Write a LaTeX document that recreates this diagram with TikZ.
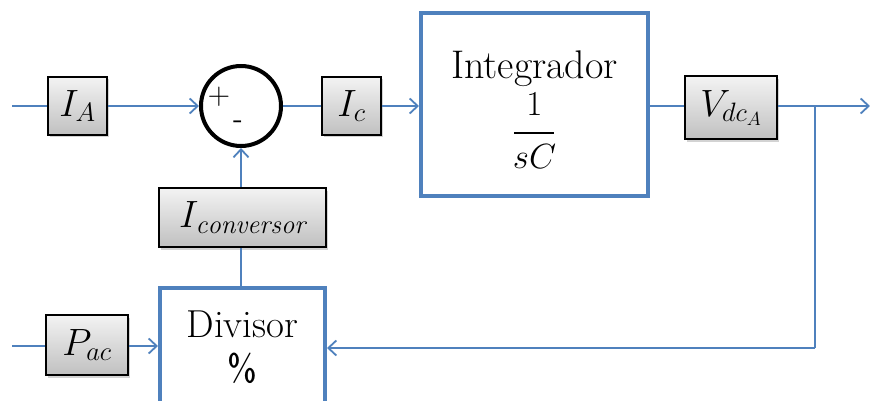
\RequirePackage{fix-cm}
\documentclass[tikz,border=0pt]{standalone}
\usepackage{fontspec}
\usetikzlibrary{arrows.meta,shadows}
\definecolor{lblue}{RGB}{79,129,189}
\definecolor{gtop}{RGB}{243,243,243}
\definecolor{gbot}{RGB}{192,192,192}
\tikzset{
  conn/.style={draw=lblue, line width=2pt},
  arr/.style={conn, -{Straight Barb[length=8pt,width=15pt,line width=1.8pt]}},
  gbox/.style={draw=black, line width=2pt, top color=gtop, bottom color=gbot, inner sep=0pt,
    drop shadow={shadow xshift=2pt, shadow yshift=-2.5pt, opacity=0.35},
    font=\fontsize{38}{42}\selectfont},
  bbox/.style={draw=lblue, line width=4pt, fill=white, inner sep=0pt},
  sumc/.style={circle, draw=black, line width=4pt, fill=white, minimum size=80pt, inner sep=0pt},
  lbl/.style={inner sep=0pt, anchor=base, font=\fontsize{40}{44}\selectfont},
  frc/.style={inner sep=0pt, anchor=base, font=\fontsize{35}{38}\selectfont},
  sgn/.style={inner sep=0pt, font=\sffamily\fontsize{31}{33}\selectfont}
}
\begin{document}
\begin{tikzpicture}[x=1pt,y=-1pt]
\useasboundingbox (0,0) rectangle (870,401);
\clip (0,0) rectangle (870,401);
% blocks
\node[gbox, minimum width=59pt, minimum height=58pt] (ia) at (77.5,106) {$I_A$};
\node[sumc] (sum) at (241,106) {};
\node[sgn] (plus) at (219,97) {+};
\node[sgn] (minus) at (238,125) {-};
\node[gbox, minimum width=59pt, minimum height=58pt] (ic) at (351.5,106) {$I_c$};
\node[bbox, minimum width=227pt, minimum height=183pt] (int) at (534.5,104.5) {};
\node[lbl] (intt) at (534.5,79) {Integrador};
\node[frc] (one) at (534.5,116) {$1$};
\coordinate (barl) at (514,133);
\coordinate (barr) at (554,133);
\draw[line width=1.6pt] (barl) -- (barr);
\node[frc] (sc) at (534.5,168) {$sC$};
\node[gbox, minimum width=92pt, minimum height=63pt] (vdc) at (731,108) {$V_{dc_A}$};
\node[bbox, minimum width=165pt, minimum height=172pt] (div) at (242.5,374) {};
\node[lbl, font=\fontsize{39}{42}\selectfont] (divt) at (242.5,337) {Divisor};
\node[lbl, font=\sffamily\fontsize{38}{40}\selectfont] (pct) at (242.5,381) {\%};
\node[gbox, minimum width=167pt, minimum height=59pt] (iconv) at (242.5,217.5) {$\fontsize{42}{44}\selectfont I_{\fontsize{31}{33}\selectfont\mathit{conversor}}$};
\node[gbox, minimum width=82pt, minimum height=60pt] (pac) at (87,345) {$P_{ac}$};
% connector points
\coordinate (inA) at (12,106);
\coordinate (inP) at (12,346);
\coordinate (out) at (870,106);
\coordinate (br) at (815,106);
\coordinate (brd) at (815,348);
% connectors
\draw[conn] (inA) -- (inA -| ia.west);
\draw[arr] (inA -| ia.east) -- (inA -| sum.west);
\draw[conn] (inA -| sum.east) -- (inA -| ic.west);
\draw[arr] (inA -| ic.east) -- (inA -| int.west);
\draw[conn] (inA -| int.east) -- (inA -| vdc.west);
\draw[arr] (inA -| vdc.east) -- (out);
\draw[conn] (br) -- (brd);
\draw[arr] (brd) -- (brd -| div.east);
\draw[conn] (inP) -- (inP -| pac.west);
\draw[arr] (inP -| pac.east) -- (inP -| div.west);
\draw[conn] (div.north -| sum.south) -- (iconv.south -| sum.south);
\draw[arr] (iconv.north -| sum.south) -- (sum.south);
\end{tikzpicture}
\end{document}
